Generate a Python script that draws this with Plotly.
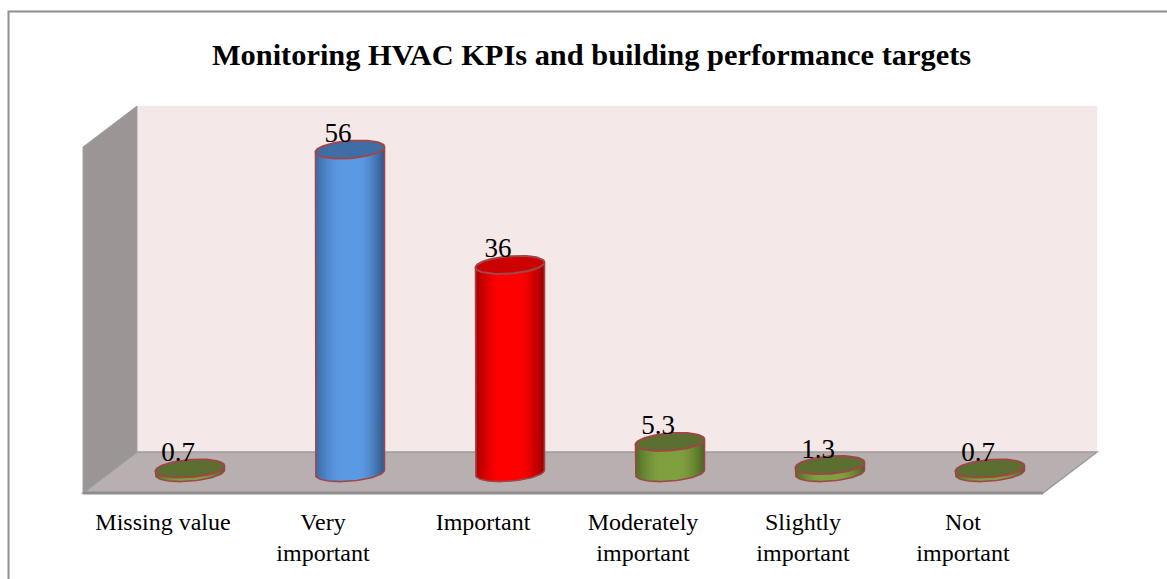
import numpy as np
import plotly.graph_objects as go

# ---- data ----
categories = ["Missing value", "Very<br>important", "Important",
              "Moderately<br>important", "Slightly<br>important", "Not<br>important"]
values = [0.7, 56, 36, 5.3, 1.3, 0.7]
value_labels = ["0.7", "56", "36", "5.3", "1.3", "0.7"]

# ---- style ----
W, H = 1167, 579
PX_X = 160.0            # pixels per category
PX_Y = 346.0 / 60.0     # pixels per value unit
X0_PX, Y0_PX = 83.0, 472.5
DX = 54.0 / PX_X        # full depth of the chart box, x units
DY = 41.0 / PX_Y        # full depth of the chart box, y units
AXIS_MAX = 60

A_PX, B_PX, S_PX = 34.5, 8.7, 2.6   # ellipse half width, half height, tilt
N = 36
SERIF = "Liberation Serif"
OUTLINE = "#a04648"

BLUE = dict(c="#5b99e3", l="#3a6aa6", r="#2f5687", top="#3f6ea6")
RED = dict(c="#ff0000", l="#a80000", r="#980000", top="#cc0000")
GREEN = dict(c="#80a03f", l="#506c26", r="#4b6424", top="#5b7030")
styles = [GREEN, BLUE, RED, GREEN, GREEN, GREEN]


def hex_rgb(h):
    return np.array([int(h[i:i + 2], 16) for i in (1, 3, 5)], float)


def shade(st, u):
    edge = hex_rgb(st["l"] if u < 0 else st["r"])
    k = min(1.0, max(0.0, (abs(u) - 0.3) / 0.7)) ** 1.5
    rgb = hex_rgb(st["c"]) * (1 - k) + edge * k
    return "rgb(%d,%d,%d)" % tuple(rgb)


def ex(cx, t):
    return cx + A_PX / PX_X * np.cos(t)


def ey(v, t):
    return v - (B_PX * np.sin(t) - S_PX * np.cos(t)) / PX_Y


fig = go.Figure()
common = dict(mode="lines", hoverinfo="skip", showlegend=False)

for i, (v, st) in enumerate(zip(values, styles)):
    cx = i + 0.5 + DX / 2
    edges = np.linspace(-1, 1, N + 1)
    for j in range(N):
        u0, u1 = edges[j], min(1.0, edges[j + 1] + 0.03)
        ts = np.arccos(np.linspace(u0, u1, 4))
        xs = np.concatenate([ex(cx, ts), ex(cx, ts[::-1])])
        ys = np.concatenate([ey(v, ts), ey(0, ts[::-1])])
        fig.add_trace(go.Scatter(x=xs, y=ys, fill="toself",
                                 fillcolor=shade(st, (u0 + edges[j + 1]) / 2),
                                 line=dict(width=0), **common))
    # silhouette of the body
    t = np.linspace(np.pi, 0, 60)
    xs = np.concatenate([[ex(cx, np.pi)], ex(cx, t), [ex(cx, 0)]])
    ys = np.concatenate([[ey(v, np.pi)], ey(0, t), [ey(v, 0)]])
    fig.add_trace(go.Scatter(x=xs, y=ys, line=dict(color=OUTLINE, width=1.6), **common))
    # top ellipse
    t = np.linspace(0, 2 * np.pi, 90)
    fig.add_trace(go.Scatter(x=ex(cx, t), y=ey(v, t), fill="toself", fillcolor=st["top"],
                             line=dict(color=OUTLINE, width=2), **common))

# data labels
fig.add_trace(go.Scatter(
    x=[i + 0.5 + DX / 2 - 12 / PX_X for i in range(len(values))],
    y=[v + 0.13 for v in values],
    text=value_labels, mode="text", textposition="top center",
    textfont=dict(family=SERIF, size=27, color="#000000"),
    hoverinfo="skip", showlegend=False))

n = len(categories)


def poly(pts, fill, line=None, lw=1.0):
    path = "M " + " L ".join(f"{x},{y}" for x, y in pts) + " Z"
    return dict(type="path", path=path, xref="x", yref="y", layer="below",
                fillcolor=fill, line=dict(color=line or fill, width=lw))


back_b, front_b = DY / 2, -DY / 2
shapes = [
    # outer frame (runs off the right and the bottom of the page)
    dict(type="rect", xref="paper", yref="paper", x0=8.5 / W, x1=1.02,
         y0=-0.05, y1=1 - 11.5 / H, layer="below",
         line=dict(color="#8e8e8e", width=2), fillcolor="#ffffff"),
    # back wall
    poly([(DX, back_b), (n + DX, back_b), (n + DX, back_b + AXIS_MAX), (DX, back_b + AXIS_MAX)],
         "#f4e8e8", "#f7eeee", 0.5),
    # side wall
    poly([(0, front_b), (DX, back_b), (DX, back_b + AXIS_MAX), (0, front_b + AXIS_MAX)],
         "#9b9595", "#a5a0a0", 1),
    # floor
    poly([(0, front_b), (n, front_b), (n + DX, back_b), (DX, back_b)],
         "#b8b0b0", "#9b9a9a", 1.5),
    # front edge of the floor
    dict(type="line", xref="x", yref="y", layer="below", x0=0, x1=n, y0=front_b, y1=front_b,
         line=dict(color="#8f8e8e", width=3)),
]

fig.update_layout(
    width=W, height=H, autosize=False,
    margin=dict(l=0, r=0, t=0, b=0, pad=0),
    paper_bgcolor="#ffffff", plot_bgcolor="rgba(0,0,0,0)",
    showlegend=False, shapes=shapes,
    title=dict(text="<b>Monitoring HVAC KPIs and building performance targets</b>",
               x=591.5 / W, xanchor="center", y=1 - 54 / H, yanchor="middle",
               font=dict(family=SERIF, size=30.4, color="#000000")),
    xaxis=dict(range=[-X0_PX / PX_X, (W - X0_PX) / PX_X], domain=[0, 1],
               anchor="free", position=1 - 504.5 / H,
               tickmode="array", tickvals=[i + 0.5 for i in range(n)], ticktext=categories,
               tickangle=0, ticks="", showgrid=False, zeroline=False, showline=False,
               tickfont=dict(family=SERIF, size=24, color="#000000")),
    yaxis=dict(range=[-(H - Y0_PX) / PX_Y, Y0_PX / PX_Y], domain=[0, 1],
               visible=False, showgrid=False, zeroline=False),
)

fig.write_html("out.html", config=dict(displayModeBar=False),
               post_script="document.body.style.margin='0';document.body.style.overflow='hidden';")
